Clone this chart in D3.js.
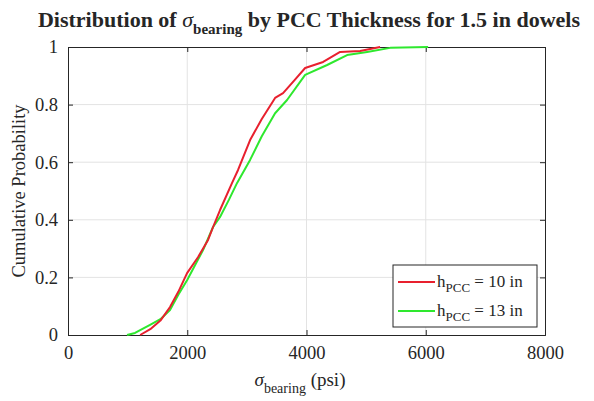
<!DOCTYPE html>
<html>
<head>
<meta charset="utf-8">
<script src="https://cdn.jsdelivr.net/npm/d3@7"></script>
<style>
  html, body { margin: 0; padding: 0; background: #ffffff; }
  svg { display: block; }
  text { font-family: "Liberation Serif", "Times New Roman", serif; fill: #262626; }
</style>
</head>
<body>
<svg id="chart" width="594" height="401"></svg>
<script>
// Empirical cumulative distributions of bearing stress (psi)
const stress10 = [1210, 1380, 1550, 1711, 1850, 1997, 2180, 2349, 2433, 2550, 2752, 2852, 3054, 3250, 3473, 3607, 3800, 3977, 4279, 4564, 4899, 5235];
const prob10   = [0, 0.02, 0.05, 0.097, 0.15, 0.215, 0.27, 0.33, 0.375, 0.434, 0.528, 0.573, 0.677, 0.75, 0.823, 0.84, 0.885, 0.927, 0.948, 0.983, 0.986, 1.0];
const stress13 = [990, 1124, 1376, 1550, 1711, 1850, 1997, 2265, 2433, 2550, 2700, 2836, 3054, 3250, 3473, 3674, 3977, 4346, 4681, 5017, 5403, 6040];
const prob13   = [0, 0.007, 0.035, 0.055, 0.087, 0.14, 0.19, 0.295, 0.375, 0.41, 0.47, 0.528, 0.608, 0.69, 0.77, 0.816, 0.903, 0.9375, 0.972, 0.983, 0.997, 1.0];

const xTicks = [0, 2000, 4000, 6000, 8000];
const yTicks = [0, 0.2, 0.4, 0.6, 0.8, 1];
const seriesNames = ["10", "13"];
const seriesColors = ["#e8202e", "#2ee82e"];

const svg = d3.select("#chart");
const m = { left: 68, right: 545, top: 47, bottom: 335 };

const x = d3.scaleLinear().domain([0, 8000]).range([m.left, m.right]);
const y = d3.scaleLinear().domain([0, 1]).range([m.bottom, m.top]);

// plot background
svg.append("rect").attr("x", m.left).attr("y", m.top)
  .attr("width", m.right - m.left).attr("height", m.bottom - m.top)
  .attr("fill", "#ffffff");

// grid
const grid = svg.append("g").attr("stroke", "#e3e3e3").attr("stroke-width", 1);
grid.selectAll("line.vx").data(xTicks.slice(1, -1)).join("line")
  .attr("x1", d => x(d)).attr("x2", d => x(d))
  .attr("y1", m.top).attr("y2", m.bottom);
grid.selectAll("line.hy").data(yTicks.slice(1, -1)).join("line")
  .attr("x1", m.left).attr("x2", m.right)
  .attr("y1", d => y(d)).attr("y2", d => y(d));

// axes with inward ticks, boxed
const axB = svg.append("g").attr("transform", `translate(0,${m.bottom})`)
  .call(d3.axisBottom(x).tickValues(xTicks).tickSize(-5).tickPadding(11).tickFormat(d3.format("d")));
const axT = svg.append("g").attr("transform", `translate(0,${m.top})`)
  .call(d3.axisTop(x).tickValues(xTicks).tickSize(-5).tickFormat(""));
const axL = svg.append("g").attr("transform", `translate(${m.left},0)`)
  .call(d3.axisLeft(y).tickValues(yTicks).tickSize(-5).tickPadding(10).tickFormat(d => String(d)));
const axR = svg.append("g").attr("transform", `translate(${m.right},0)`)
  .call(d3.axisRight(y).tickValues(yTicks).tickSize(-5).tickFormat(""));
[axB, axT, axL, axR].forEach(a => {
  a.select(".domain").attr("stroke", "#262626").attr("stroke-width", 1);
  a.selectAll(".tick line").attr("stroke", "#262626");
  a.selectAll(".tick text").attr("font-size", 18.5).attr("fill", "#333")
    .attr("font-family", "Liberation Serif, serif");
});

// curves
const line = d3.line().x(d => x(d[0])).y(d => y(d[1]));
const data10 = stress10.map((s, i) => [s, prob10[i]]);
const data13 = stress13.map((s, i) => [s, prob13[i]]);
svg.append("path").datum(data13).attr("d", line)
  .attr("fill", "none").attr("stroke", seriesColors[1])
  .attr("stroke-width", 2).attr("stroke-linejoin", "round");
svg.append("path").datum(data10).attr("d", line)
  .attr("fill", "none").attr("stroke", seriesColors[0])
  .attr("stroke-width", 2).attr("stroke-linejoin", "round");

// title
const title = svg.append("text").attr("x", 309).attr("y", 27)
  .attr("text-anchor", "middle").attr("font-size", 22).attr("font-weight", "bold")
  .attr("fill", "#000");
title.append("tspan").text("Distribution of ");
title.append("tspan").attr("font-style", "italic").attr("font-weight", "normal").text("σ");
title.append("tspan").attr("font-size", 15).attr("dy", 7).text("bearing");
title.append("tspan").attr("dy", -7).text(" by PCC Thickness for 1.5 in dowels");

// axis labels
const xl = svg.append("text").attr("x", 300).attr("y", 386)
  .attr("text-anchor", "middle").attr("font-size", 19);
xl.append("tspan").attr("font-style", "italic").text("σ");
xl.append("tspan").attr("font-size", 14).attr("dy", 7).text("bearing");
xl.append("tspan").attr("dy", -7).text(" (psi)");

svg.append("text")
  .attr("transform", `translate(25,${(m.top + m.bottom) / 2}) rotate(-90)`)
  .attr("text-anchor", "middle").attr("font-size", 18.5)
  .text("Cumulative Probability");

// legend
const lg = svg.append("g");
lg.append("rect").attr("x", 393).attr("y", 265).attr("width", 144).attr("height", 62)
  .attr("fill", "#ffffff").attr("stroke", "#262626").attr("stroke-width", 1);
seriesNames.forEach((name, i) => {
  const yy = 282 + i * 29;
  lg.append("line").attr("x1", 398).attr("x2", 435).attr("y1", yy).attr("y2", yy)
    .attr("stroke", seriesColors[i]).attr("stroke-width", 2);
  const t = lg.append("text").attr("x", 437).attr("y", yy + 5).attr("font-size", 17);
  t.append("tspan").text("h");
  t.append("tspan").attr("font-size", 13).attr("dy", 5).text("PCC");
  t.append("tspan").attr("dy", -5).text(" = " + name + " in");
});
</script>
</body>
</html>
